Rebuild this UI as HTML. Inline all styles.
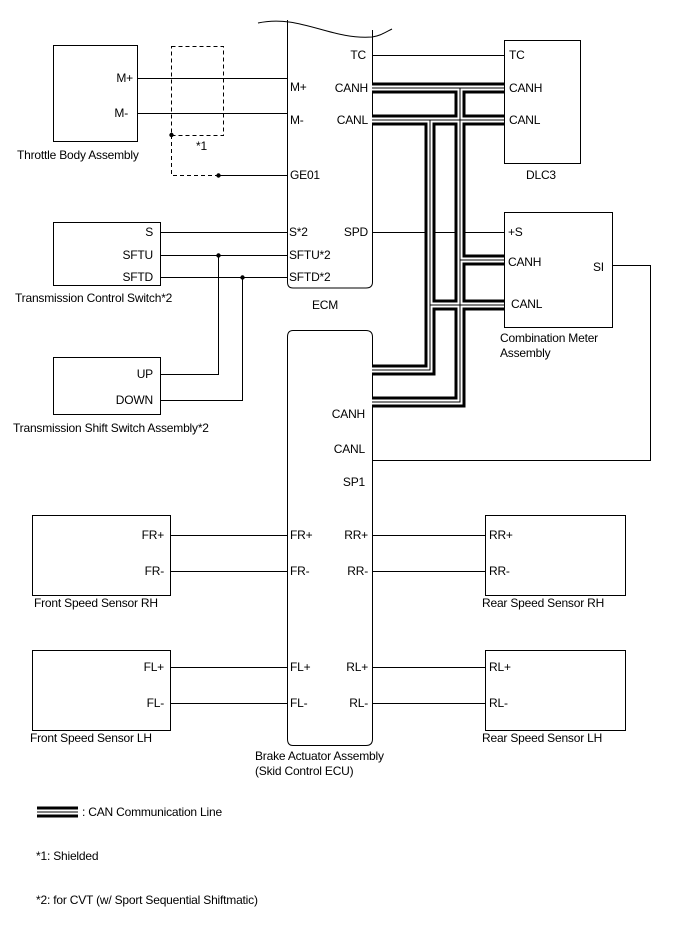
<!DOCTYPE html>
<html><head><meta charset="utf-8"><style>
html,body{margin:0;padding:0;background:#fff}
svg{display:block}
text{font-family:"Liberation Sans",Arial,sans-serif;font-size:12px;fill:#000;letter-spacing:-0.2px}
</style></head><body>
<svg width="688" height="949" viewBox="0 0 688 949" xmlns="http://www.w3.org/2000/svg">
<g fill="none" stroke="#000" stroke-width="1">
<rect x="53.5" y="45.5" width="84" height="96"/>
<rect x="171.5" y="46.5" width="52" height="89" stroke-dasharray="4,3"/>
<path d="M171.5 135 V175.5 H218" stroke-dasharray="4,3"/>
<line x1="218" y1="175.5" x2="287" y2="175.5"/>
<line x1="137" y1="78.5" x2="287" y2="78.5"/>
<line x1="137" y1="113.5" x2="287" y2="113.5"/>
<path d="M287.5 20 V282 Q287.5 288 293 288 H366 Q372.5 288 372.5 282 V30"/>
<path d="M258 23 C300 14, 330 40, 372 37 C380 36, 386 32, 392 29"/>
<rect x="504.5" y="40.5" width="76" height="123"/>
<line x1="372" y1="55.5" x2="504" y2="55.5"/>
<rect x="504.5" y="212.5" width="108" height="115"/>
<line x1="372" y1="232.5" x2="504" y2="232.5"/>
<path d="M612 265.5 H650.5 V460.5 H372"/>
<rect x="53.5" y="222.5" width="107" height="63"/>
<line x1="160" y1="232.5" x2="287" y2="232.5"/>
<line x1="160" y1="255.5" x2="287" y2="255.5"/>
<line x1="160" y1="277.5" x2="287" y2="277.5"/>
<path d="M218.5 255 V374.5 H160"/>
<path d="M242.5 277 V400.5 H160"/>
<rect x="53.5" y="357.5" width="107" height="57"/>
<path d="M293 330.5 H366 Q372.5 330.5 372.5 337 V739 Q372.5 745.5 366 745.5 H293 Q287.5 745.5 287.5 739 V337 Q287.5 330.5 293 330.5Z"/>
<rect x="32.5" y="515.5" width="138" height="80"/>
<rect x="485.5" y="515.5" width="140" height="80"/>
<rect x="32.5" y="650.5" width="138" height="80"/>
<rect x="485.5" y="650.5" width="140" height="80"/>
<line x1="170" y1="535.5" x2="287" y2="535.5"/>
<line x1="170" y1="571.5" x2="287" y2="571.5"/>
<line x1="170" y1="667.5" x2="287" y2="667.5"/>
<line x1="170" y1="703.5" x2="287" y2="703.5"/>
<line x1="372" y1="535.5" x2="485" y2="535.5"/>
<line x1="372" y1="571.5" x2="485" y2="571.5"/>
<line x1="372" y1="667.5" x2="485" y2="667.5"/>
<line x1="372" y1="703.5" x2="485" y2="703.5"/>
</g>
<g fill="#000">
<circle cx="171.5" cy="135" r="2.2"/><circle cx="218.5" cy="175.5" r="2.2"/>
<circle cx="218.5" cy="255.5" r="2.2"/><circle cx="242.5" cy="277.5" r="2.2"/>
</g>
<g fill="none" stroke-linejoin="miter">
<g stroke="#000" stroke-width="11">
<path d="M372 88 H504"/><path d="M372 120 H504"/>
<path d="M430 120 V370 H372"/>
<path d="M460 88 V402 H372"/>
<path d="M460 260 H504"/><path d="M430 305 H504"/>
</g>
<g stroke="#fff" stroke-width="5">
<path d="M372 88 H504"/><path d="M372 120 H504"/>
<path d="M430 120 V370 H372"/>
<path d="M460 88 V402 H372"/>
<path d="M460 260 H504"/><path d="M430 305 H504"/>
</g>
<g stroke="#000" stroke-width="1">
<path d="M372 88 H504"/><path d="M372 120 H504"/>
<path d="M430 120 V370 H372"/>
<path d="M460 88 V402 H372"/>
<path d="M460 260 H504"/><path d="M430 305 H504"/>
</g>
<g stroke="#000" stroke-width="11"><path d="M37 812 H78"/></g>
<g stroke="#fff" stroke-width="5"><path d="M37 812 H78"/></g>
<g stroke="#000" stroke-width="1"><path d="M37 812 H78"/></g>
</g>
<text x="133" y="82" text-anchor="end">M+</text><text x="128" y="117" text-anchor="end">M-</text>
<text x="17" y="159">Throttle Body Assembly</text>
<text x="196" y="150">*1</text>
<text x="290" y="91">M+</text><text x="290" y="124">M-</text>
<text x="290" y="179">GE01</text>
<text x="366" y="59" text-anchor="end">TC</text>
<text x="368" y="92" text-anchor="end">CANH</text>
<text x="368" y="124" text-anchor="end">CANL</text>
<text x="368" y="236" text-anchor="end">SPD</text>
<text x="289" y="236">S*2</text><text x="289" y="259">SFTU*2</text><text x="289" y="281">SFTD*2</text>
<text x="312" y="309">ECM</text>
<text x="509" y="59">TC</text><text x="509" y="92">CANH</text><text x="509" y="124">CANL</text>
<text x="526" y="179">DLC3</text>
<text x="508" y="236">+S</text><text x="508" y="266">CANH</text><text x="511" y="308">CANL</text>
<text x="593" y="271">SI</text>
<text x="500" y="342">Combination Meter</text><text x="500" y="357">Assembly</text>
<text x="153" y="236" text-anchor="end">S</text>
<text x="153" y="259" text-anchor="end">SFTU</text>
<text x="153" y="281" text-anchor="end">SFTD</text>
<text x="15" y="302">Transmission Control Switch*2</text>
<text x="153" y="378" text-anchor="end">UP</text>
<text x="153" y="404" text-anchor="end">DOWN</text>
<text x="13" y="432">Transmission Shift Switch Assembly*2</text>
<text x="365" y="418" text-anchor="end">CANH</text>
<text x="365" y="453" text-anchor="end">CANL</text>
<text x="365" y="486" text-anchor="end">SP1</text>
<text x="290" y="539">FR+</text><text x="290" y="575">FR-</text>
<text x="290" y="671">FL+</text><text x="290" y="707">FL-</text>
<text x="368" y="539" text-anchor="end">RR+</text><text x="368" y="575" text-anchor="end">RR-</text>
<text x="368" y="671" text-anchor="end">RL+</text><text x="368" y="707" text-anchor="end">RL-</text>
<text x="164" y="539" text-anchor="end">FR+</text><text x="164" y="575" text-anchor="end">FR-</text>
<text x="164" y="671" text-anchor="end">FL+</text><text x="164" y="707" text-anchor="end">FL-</text>
<text x="489" y="539">RR+</text><text x="489" y="575">RR-</text>
<text x="489" y="671">RL+</text><text x="489" y="707">RL-</text>
<text x="34" y="607">Front Speed Sensor RH</text>
<text x="482" y="607">Rear Speed Sensor RH</text>
<text x="30" y="742">Front Speed Sensor LH</text>
<text x="482" y="742">Rear Speed Sensor LH</text>
<text x="255" y="760">Brake Actuator Assembly</text>
<text x="255" y="775">(Skid Control ECU)</text>
<text x="82" y="816">: CAN Communication Line</text>
<text x="36" y="860">*1: Shielded</text>
<text x="36" y="904">*2: for CVT (w/ Sport Sequential Shiftmatic)</text>
</svg>
</body></html>
